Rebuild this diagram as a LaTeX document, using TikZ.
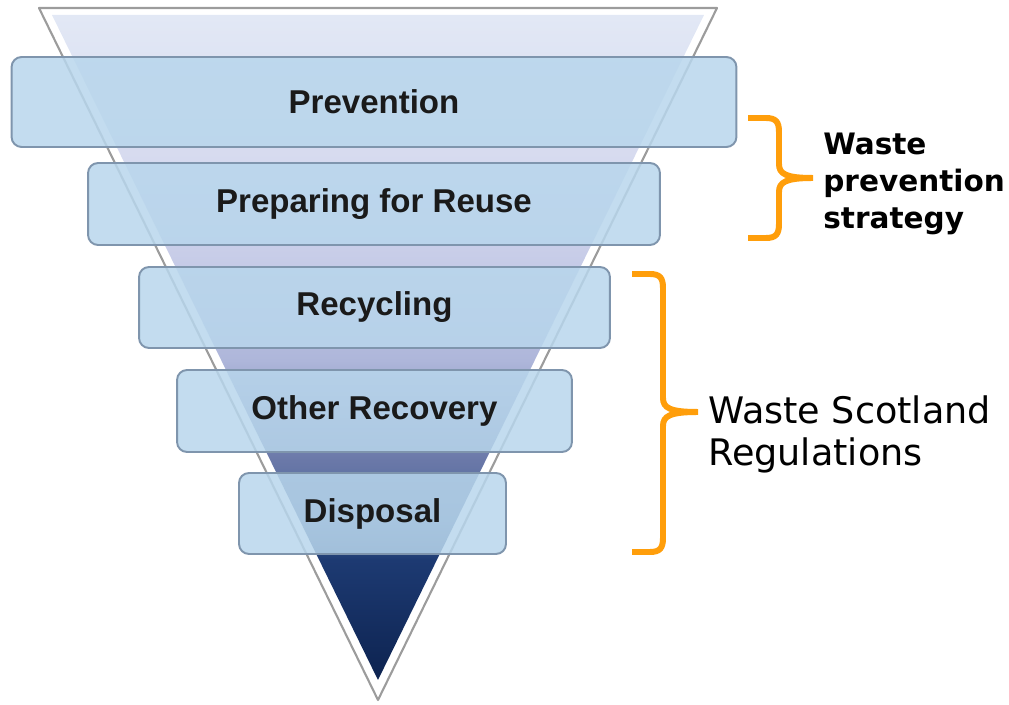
\documentclass[tikz,border=0pt]{standalone}
\usepackage{fontspec}
\setmainfont{Liberation Sans}
\newfontfamily\notefont{DejaVu Sans}
\usepackage{xcolor}
\usepackage{tikz}
\definecolor{FunnelTop}{HTML}{E2E8F5}
\definecolor{FunnelLav}{HTML}{D6DAEF}
\definecolor{FunnelMid}{HTML}{C8CDE8}
\definecolor{FunnelLow}{HTML}{AEB6DA}
\definecolor{FunnelSlate}{HTML}{6A78A8}
\definecolor{FunnelBlue}{HTML}{4A6598}
\definecolor{FunnelNavy}{HTML}{1D3A72}
\definecolor{FunnelDark}{HTML}{0D2350}
\definecolor{FunnelLine}{HTML}{9C9C9C}
\definecolor{TierFill}{HTML}{B8D6EC}
\definecolor{TierEdge}{HTML}{7F95AD}
\definecolor{TierText}{HTML}{1A1A1A}
\definecolor{BraceOrange}{HTML}{FF9E0B}
\pgfdeclareverticalshading{funnelshade}{100bp}{color(0bp)=(FunnelDark); color(25bp)=(FunnelDark);
  color(34bp)=(FunnelNavy); color(37bp)=(FunnelBlue); color(41.5bp)=(FunnelSlate);
  color(49bp)=(FunnelLow); color(57bp)=(FunnelMid); color(64bp)=(FunnelLav);
  color(75bp)=(FunnelTop); color(100bp)=(FunnelTop)}
\tikzset{
  tier/.style={draw=TierEdge, line width=1.1pt, fill=TierFill, fill opacity=0.85,
               text opacity=1, rounded corners=0.2cm, text=TierText,
               font=\fontsize{18.8}{22}\selectfont\bfseries},
  note/.style={anchor=north west, align=left, inner sep=0pt, text=black},
  brace/.style={draw=BraceOrange, line width=3.4pt}
}

\begin{document}
\begin{tikzpicture}[x=0.02cm, y=-0.02cm]
  \useasboundingbox (0,0) rectangle (1009,705);
  % funnel
  \draw[FunnelLine, line width=1.2pt, line join=round] (39,8) -- (717,8) -- (378,700) -- cycle;
  \shade[shading=funnelshade] (52,15) -- (704,15) -- (378,680) -- cycle;

  % tiers
  \node[tier, minimum width=14.5cm, minimum height=1.8cm] (prev) at (374,102) {Prevention};
  \node[tier, minimum width=11.44cm, minimum height=1.64cm] (reuse) at (374,204) {Preparing for Reuse};
  \node[tier, minimum width=9.42cm, minimum height=1.62cm] (recyc) at (374.5,307.5) {Recycling};
  \node[tier, minimum width=7.9cm, minimum height=1.64cm] (recov) at (374.5,411) {Other Recovery};
  \node[tier, minimum width=5.34cm, minimum height=1.62cm] (disp) at (372.5,513.5) {Disposal};

  % braces
  \draw[brace] (748,118) -- (766,118) .. controls (776,118) and (779,122) .. (779,132)
    -- (779,164) .. controls (779,174) and (786,178) .. (813,178)
    .. controls (786,178) and (779,182) .. (779,192) -- (779,224)
    .. controls (779,234) and (776,238) .. (766,238) -- (748,238);
  \draw[brace] (632,274) -- (650,274) .. controls (660,274) and (663,278) .. (663,288)
    -- (663,398) .. controls (663,408) and (670,412) .. (698,412)
    .. controls (670,412) and (663,416) .. (663,426) -- (663,538)
    .. controls (663,548) and (660,552) .. (650,552) -- (632,552);

  % labels
  \node[note, font=\notefont\bfseries\fontsize{16.8}{21}\selectfont] (strategy) at (823,133)
    {Waste\\prevention\\strategy};
  \node[note, font=\notefont\fontsize{20.8}{24}\selectfont] (regs) at (708,395)
    {Waste Scotland\\Regulations};
\end{tikzpicture}
\end{document}
